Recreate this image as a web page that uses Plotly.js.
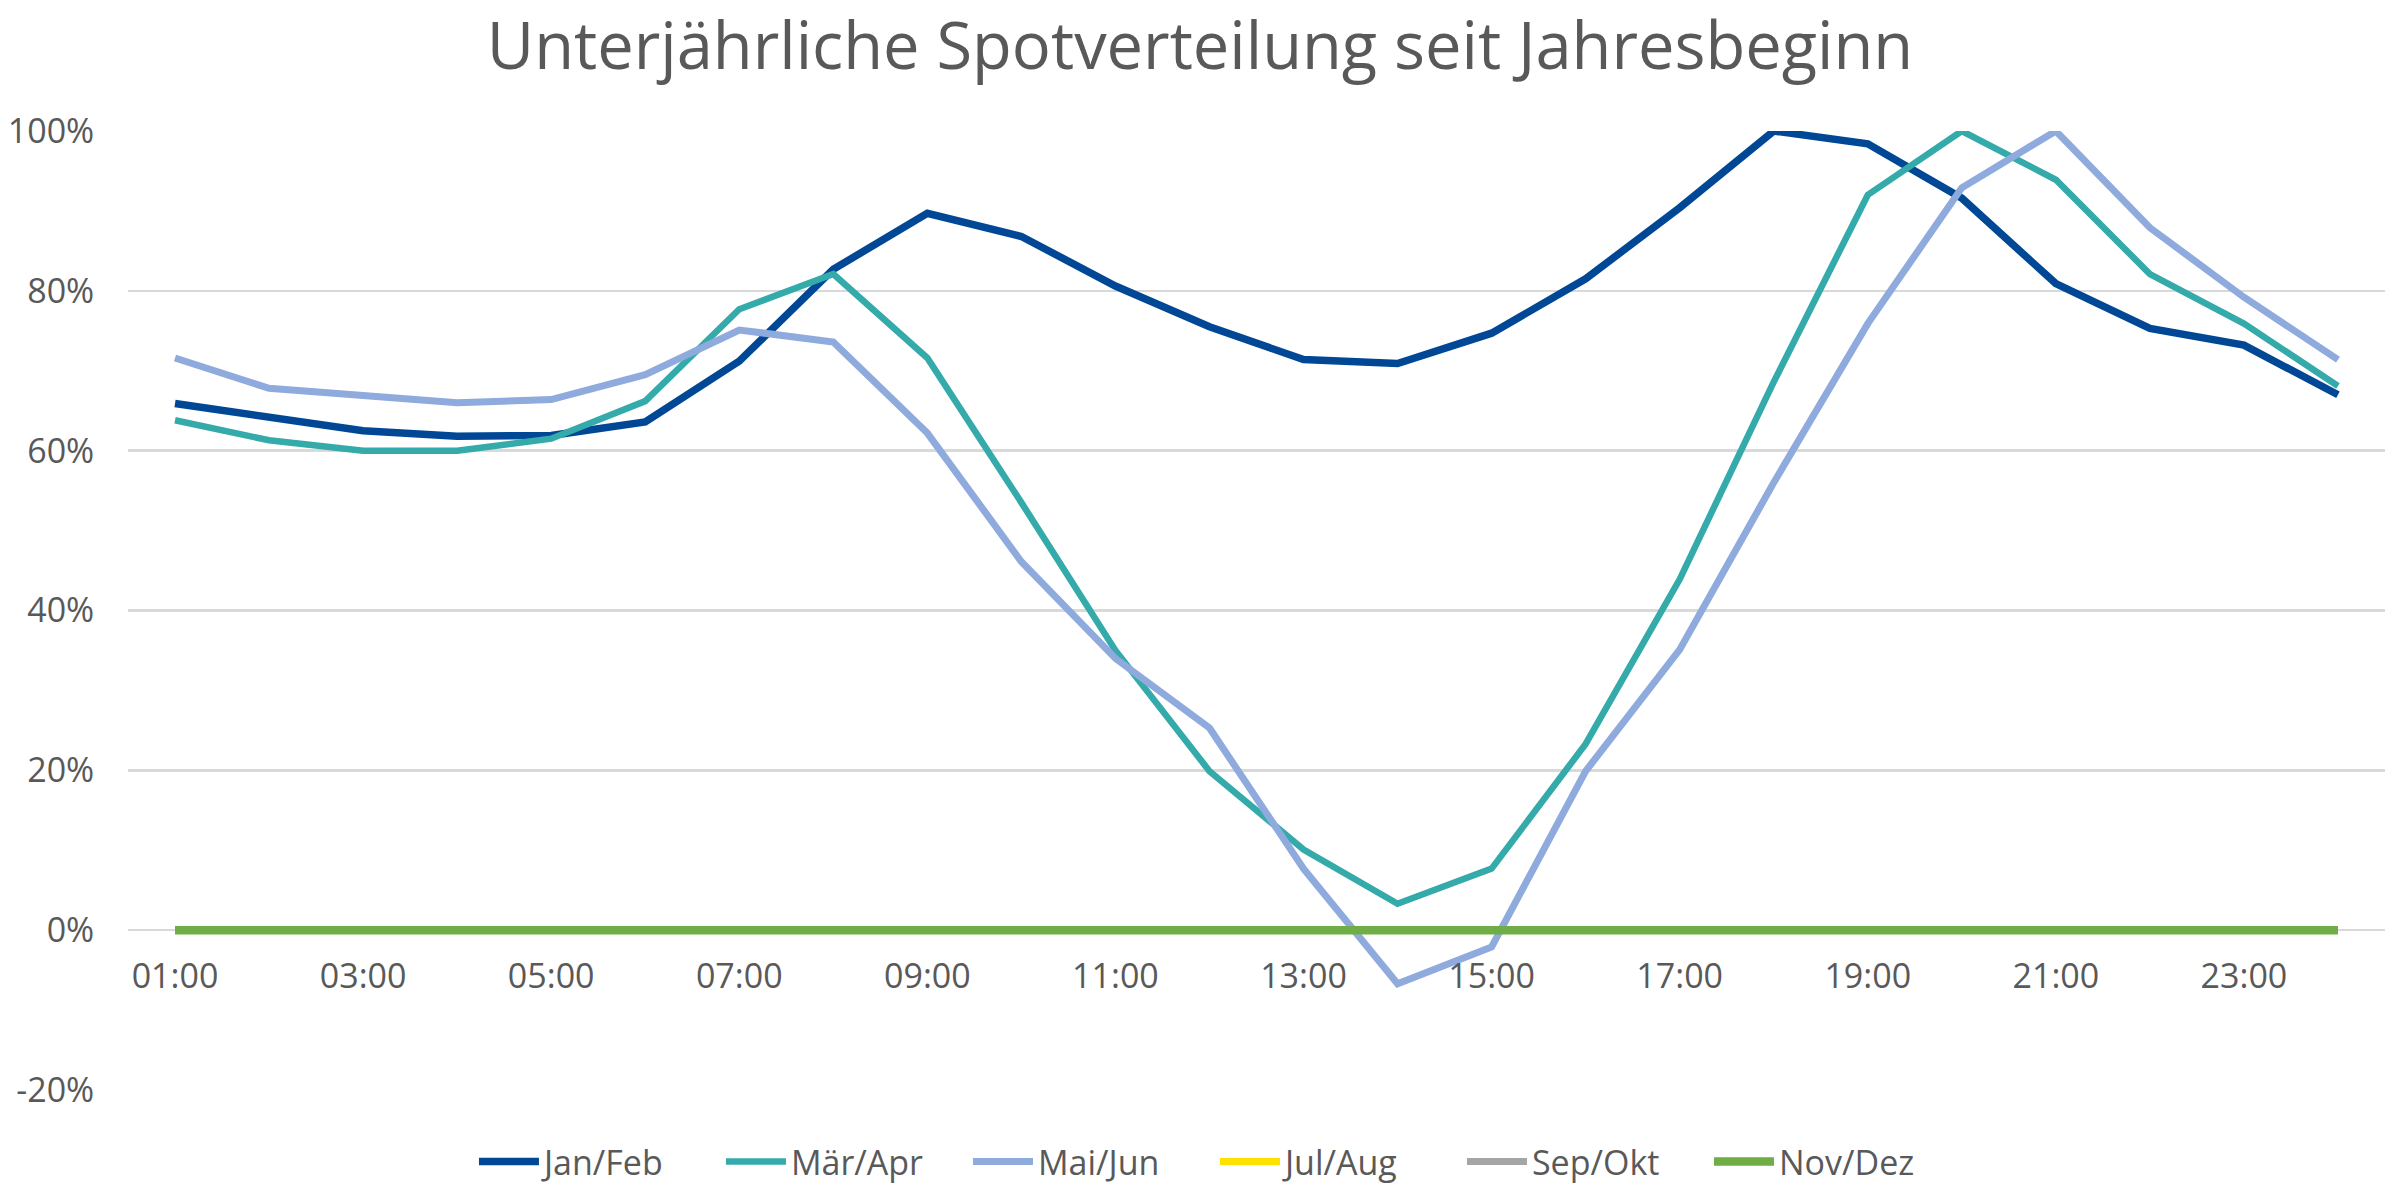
<!DOCTYPE html>
<html>
<head>
<meta charset="utf-8">
<script src="https://cdn.plot.ly/plotly-3.0.1.min.js"></script>
<style>
  html, body { margin: 0; padding: 0; background: #ffffff; }
  #chart { width: 2400px; height: 1203px; }
</style>
</head>
<body>
<div id="chart"></div>
<script>
// ------------ INPUT DATA ------------
// hours of the day (category axis)
const HOURS = ["01:00", "02:00", "03:00", "04:00", "05:00", "06:00", "07:00", "08:00",
  "09:00", "10:00", "11:00", "12:00", "13:00", "14:00", "15:00", "16:00",
  "17:00", "18:00", "19:00", "20:00", "21:00", "22:00", "23:00", "24:00"];

// only every second hour is labelled
const HOUR_TICKS = ["01:00", "03:00", "05:00", "07:00", "09:00", "11:00",
  "13:00", "15:00", "17:00", "19:00", "21:00", "23:00"];

// values in %
const JAN_FEB = [65.9, 64.2, 62.5, 61.8, 61.9, 63.6, 71.2, 82.7, 89.7, 86.8, 80.6, 75.5,
  71.4, 70.9, 74.7, 81.5, 90.4, 100.0, 98.4, 91.6, 80.9, 75.3, 73.2, 67.0];
const MAR_APR = [63.8, 61.3, 60.0, 60.0, 61.5, 66.2, 77.7, 82.1, 71.6, 53.5, 35.0, 19.9,
  10.1, 3.3, 7.7, 23.3, 43.9, 68.6, 92.0, 100.0, 93.9, 82.1, 75.9, 68.1];
const MAI_JUN = [71.6, 67.8, 66.9, 66.0, 66.4, 69.5, 75.1, 73.6, 62.2, 46.1, 34.0, 25.3,
  7.7, -6.7, -2.1, 19.9, 35.1, 56.0, 75.9, 92.9, 100.0, 87.9, 79.2, 71.4];
const JUL_AUG = [0, 0, 0, 0, 0, 0, 0, 0, 0, 0, 0, 0, 0, 0, 0, 0, 0, 0, 0, 0, 0, 0, 0, 0];
const SEP_OKT = [0, 0, 0, 0, 0, 0, 0, 0, 0, 0, 0, 0, 0, 0, 0, 0, 0, 0, 0, 0, 0, 0, 0, 0];
const NOV_DEZ = [0, 0, 0, 0, 0, 0, 0, 0, 0, 0, 0, 0, 0, 0, 0, 0, 0, 0, 0, 0, 0, 0, 0, 0];

const SERIES_NAMES = ["Jan/Feb", "Mär/Apr", "Mai/Jun", "Jul/Aug", "Sep/Okt", "Nov/Dez"];
const Y_TICKS = [-20, 0, 20, 40, 60, 80, 100];
// ------------ END INPUT DATA ------------

const FONT = "'Open Sans', 'Liberation Sans', sans-serif";
const TEXT_COLOR = "#595959";

function lineTrace(name, values, color, width) {
  return {
    x: HOURS,
    y: values,
    name: name,
    type: "scatter",
    mode: "lines",
    hoverinfo: "none",
    line: { color: color, width: width },
  };
}

function spotPlot() {
  const data = [
    lineTrace(SERIES_NAMES[0], JAN_FEB, "rgb(0, 72, 150)", 7.5),
    lineTrace(SERIES_NAMES[1], MAR_APR, "rgb(52, 170, 170)", 6.5),
    lineTrace(SERIES_NAMES[2], MAI_JUN, "rgb(143, 170, 220)", 7),
    lineTrace(SERIES_NAMES[3], JUL_AUG, "rgb(255, 225, 0)", 7),
    lineTrace(SERIES_NAMES[4], SEP_OKT, "rgb(165, 165, 165)", 7),
    lineTrace(SERIES_NAMES[5], NOV_DEZ, "rgb(112, 173, 71)", 8.5),
  ];

  const layout = {
    width: 2400,
    height: 1203,
    margin: { t: 131, b: 101, l: 128, r: 15 },
    paper_bgcolor: "#ffffff",
    plot_bgcolor: "#ffffff",
    font: { family: FONT, color: TEXT_COLOR, size: 34 },
    title: {
      text: "Unterjährliche Spotverteilung seit Jahresbeginn",
      font: { family: FONT, size: 65, color: TEXT_COLOR },
      x: 0.5,
      xref: "container",
      xanchor: "center",
      y: 1 - 46 / 1203,
      yref: "container",
      yanchor: "middle",
    },
    xaxis: {
      type: "category",
      range: [-0.5, HOURS.length - 0.5],
      tickmode: "array",
      tickvals: HOUR_TICKS,
      ticktext: HOUR_TICKS,
      showgrid: false,
      zeroline: false,
      showline: false,
      ticks: "outside",
      ticklen: 16,
      tickcolor: "rgba(0,0,0,0)",
      anchor: "free",
      // category labels hang under the 0% line
      position: 20 / 120,
      tickfont: { family: FONT, size: 34, color: TEXT_COLOR },
    },
    yaxis: {
      range: [-20, 100],
      tickmode: "array",
      tickvals: Y_TICKS,
      ticktext: Y_TICKS.map((v) => String(v) + "%"),
      showgrid: true,
      gridcolor: "#d9d9d9",
      gridwidth: 2.5,
      zeroline: false,
      showline: false,
      ticks: "outside",
      ticklen: 26,
      tickcolor: "rgba(0,0,0,0)",
      tickfont: { family: FONT, size: 34, color: TEXT_COLOR },
    },
    showlegend: true,
    legend: {
      orientation: "h",
      x: 0.4816,
      xanchor: "center",
      y: -0.075,
      yanchor: "middle",
      font: { family: FONT, size: 34, color: TEXT_COLOR },
      itemwidth: 60,
      entrywidth: 172,
      traceorder: "normal",
    },
  };

  Plotly.newPlot("chart", data, layout, { staticPlot: true });
}

spotPlot();
</script>
</body>
</html>
